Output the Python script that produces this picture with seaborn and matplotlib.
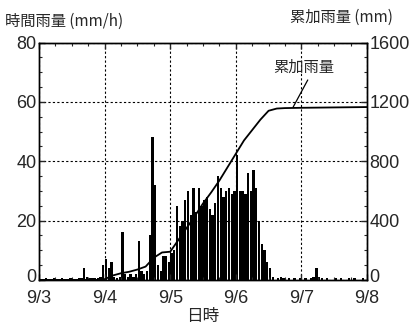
import numpy as np
import pandas as pd
import matplotlib
matplotlib.use("Agg")
import matplotlib.pyplot as plt
import matplotlib.transforms as mtransforms
from matplotlib.ticker import MultipleLocator
import seaborn as sns

# ---- data ----
day_labels = ["9/3", "9/4", "9/5", "9/6", "9/7", "9/8"]

# hourly rainfall (mm/h), hour 0 = 9/3 00:00
hourly_rain = [
    0, 0, 0.5, 0, 0, 0.5, 0, 0, 0.5, 0, 0, 0.5, 0, 0, 0.5, 0.5,
    4, 1, 0.5, 0.5, 0.5, 0.5, 1, 5,
    7, 4, 6, 1, 0.5, 1, 16, 2, 1, 2, 1, 2, 13, 3, 2, 3, 15, 48, 32, 5, 3, 8, 8, 6,
    9, 10, 25, 18, 20, 27, 30, 22, 31, 23, 31, 25, 27, 28, 24, 22, 26, 35, 31, 28, 30, 31, 29, 30,
    42, 30, 30, 29, 36, 30, 37, 31, 20, 12, 10, 6, 4,
    1, 0, 0.5, 1, 0.5, 0, 0.5, 0, 0.5, 0, 0.5,
    0, 0.5, 0, 0.5, 1, 4, 1, 0.5, 0, 0.5, 0, 0, 0.5, 0, 0.5, 0, 0, 0.5, 0, 0.5, 0, 0, 0.5, 0,
]

# cumulative rainfall (mm) at selected hours
cum_hours = [0, 21, 24, 27, 30, 33, 36, 39, 42, 45, 48, 51, 54, 57, 60, 63, 66, 69,
             72, 75, 78, 81, 84, 87, 90, 96, 120]
cum_rain = [0, 0, 5, 30, 45, 55, 70, 90, 150, 185, 190, 270, 350, 430, 515, 590, 670, 760,
            850, 940, 1010, 1080, 1140, 1155, 1158, 1160, 1165]

left_ticks = [0, 20, 40, 60, 80]
right_ticks = [0, 400, 800, 1200, 1600]

# ---- plot ----
sns.set_style("ticks")
plt.rcParams["font.family"] = ["Noto Sans CJK JP", "DejaVu Sans"]

fig = plt.figure(figsize=(4.16, 3.27), dpi=100)
ax = fig.add_axes([0.094, 0.144, 0.788, 0.726])

df = pd.DataFrame({"hour": np.arange(len(hourly_rain)) + 0.5, "rain": hourly_rain})
sns.histplot(data=df, x="hour", weights="rain", binwidth=1, binrange=(0, 120),
             shrink=0.85, color="black", alpha=1, edgecolor="none", linewidth=0, ax=ax)

ax.set_xlim(0, 120)
ax.set_ylim(0, 80)
ax.set_xticks(np.arange(0, 121, 24))
ax.set_xticklabels(day_labels)
ax.xaxis.set_minor_locator(MultipleLocator(6))
ax.set_yticks(left_ticks)
ax.yaxis.set_minor_locator(MultipleLocator(5))
ax.grid(True, which="major", color="black", linestyle=(0, (2, 2)), linewidth=0.8)
ax.set_axisbelow(False)
ax.tick_params(axis="y", which="major", direction="in", length=4, width=1,
               labelsize=12, pad=2)
ax.tick_params(axis="x", which="major", direction="in", length=4, width=1,
               labelsize=12, pad=7, top=True)
ax.tick_params(axis="both", which="minor", direction="in", length=2, width=0.8, top=True)
ax.set_ylabel("")
ax.set_xlabel("日時", fontsize=12, labelpad=1)

ax2 = ax.twinx()
sns.lineplot(x=cum_hours, y=cum_rain, ax=ax2, color="black", linewidth=1.3)
ax2.set_ylim(0, 1600)
ax2.set_yticks(right_ticks)
ax2.yaxis.set_minor_locator(MultipleLocator(100))
ax2.tick_params(axis="y", which="major", direction="in", length=4, width=1,
                labelsize=12, pad=2)
ax2.tick_params(axis="y", which="minor", direction="in", length=2, width=0.8)
ax2.set_ylabel("")

for lbl in ax.get_xticklabels() + ax.get_yticklabels() + ax2.get_yticklabels():
    lbl.set_fontfamily("Liberation Sans")
    lbl.set_fontsize(13)

# lift the two "0" labels slightly so they clear the date labels
lift = mtransforms.ScaledTranslation(0, 3 / 72, fig.dpi_scale_trans)
for a in (ax, ax2):
    lbl0 = a.yaxis.get_major_ticks()[0]
    lbl0.label1.set_transform(lbl0.label1.get_transform() + lift)
    lbl0.label2.set_transform(lbl0.label2.get_transform() + lift)

for a in (ax, ax2):
    for s in a.spines.values():
        s.set_color("black")
        s.set_linewidth(1)

ax2.annotate("累加雨量", xy=(93, 1165), xytext=(97, 1435), textcoords="data",
             ha="center", va="center", fontsize=11,
             arrowprops=dict(arrowstyle="-", color="black", lw=0.9,
                             relpos=(0.6, 0.0), shrinkA=1, shrinkB=0))

fig.text(0.012, 0.935, "時間雨量 (mm/h)", ha="left", va="center", fontsize=11)
fig.text(0.945, 0.948, "累加雨量 (mm)", ha="right", va="center", fontsize=11)

fig.savefig("out.png", dpi=100)
